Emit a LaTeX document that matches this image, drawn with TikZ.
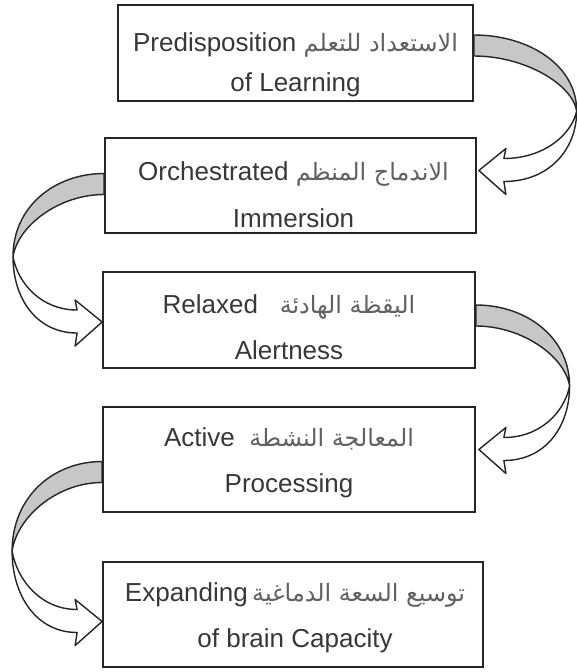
\documentclass[tikz,border=0pt]{standalone}
\usepackage{fontspec}
\setmainfont{Liberation Sans}
\newfontfamily\arabicfont[Script=Arabic]{DejaVu Sans}
\TeXXeTstate=1
\usetikzlibrary{calc}

\definecolor{shade}{gray}{0.78}
% arabic words inside a label
\newcommand{\arb}[1]{{\arabicfont\color{black!62}\fontsize{17}{28}\selectfont\beginR #1\endR}}
% bent block arrow: #1 band start, #2 tip, #3 side (1 right, -1 left), #4 bulge
\newcommand{\bentarrow}[4]{%
  \coordinate (s1) at (#1);
  \coordinate (s2) at ($(#1)+(0,21)$);
  \coordinate (t) at (#2);
  \coordinate (p) at ($(#1)!0.56!(#2)+(#3*#4,0)$);
  \coordinate (bo) at ($(t)+(#3*25,11)$);
  \coordinate (bi) at ($(t)+(#3*25,-12)$);
  % back of the band
  \draw[band, fill=shade] (s1) .. controls ($(s1)+(#3*0.55*#4,0)$) and ($(p)!0.6!(p|-s1)$) .. (p)
    .. controls ($(p)!0.5!(p|-s2)+(-5*#3,0)$) and ($(s2)+(#3*0.5*#4,0)$) .. (s2) -- cycle;
  % front of the band and the head
  \draw[band, fill=white] (p) .. controls ($(p)!0.55!(p|-bo)$) and ($(bo)+(#3*0.45*#4,0)$) .. (bo)
    -- ($(t)+(#3*27,24)$) -- (t) -- ($(t)+(#3*27,-22)$) -- (bi)
    .. controls ($(bi)+(#3*0.4*#4,0)$) and ($(p)!0.5!(p|-bi)+(-5*#3,0)$) .. (p) -- cycle;
}

\begin{document}
\begin{tikzpicture}[x=0.025cm, y=-0.025cm,
    box/.style={draw=black!85, line width=1.2pt, fill=white},
    txt/.style={align=center, text=black!78, font=\fontsize{18.5}{33}\selectfont},
    band/.style={draw=black!85, line width=1pt, line join=round}]
  \useasboundingbox (0,0) rectangle (577,672);

  \node[box, minimum width=8.875cm, minimum height=2.4cm] (pred) at (295.5,53) {};
  \node[box, minimum width=9.275cm, minimum height=2.375cm] (orch) at (290.5,185.5) {};
  \node[box, minimum width=9.3cm, minimum height=2.4cm] (relax) at (289,320) {};
  \node[box, minimum width=9.3cm, minimum height=2.625cm] (active) at (289,459.5) {};
  \node[box, minimum width=9.5cm, minimum height=2.625cm] (expand) at (293,614.5) {};

  \node[txt, font=\fontsize{18.5}{28.4}\selectfont] (pred-t) at ($(pred)+(0,12)$) {Predisposition \arb{الاستعداد للتعلم}\\of Learning};
  \node[txt] (orch-t) at ($(orch)+(3,9)$) {Orchestrated \arb{الاندماج المنظم}\\Immersion};
  \node[txt] (relax-t) at ($(relax)+(0,7)$) {Relaxed\ \ \ \arb{اليقظة الهادئة}\\Alertness};
  \node[txt] (active-t) at ($(active)+(0,3)$) {Active\ \ \arb{المعالجة النشطة}\\Processing};
  \node[txt] (expand-t) at ($(expand)+(2,3)$) {Expanding\,\arb{توسيع السعة الدماغية}\\of brain Capacity};

  \bentarrow{$(pred.east)+(0,-18)$}{$(orch.east)+(2,-15)$}{1}{100}
  \bentarrow{$(orch.west)+(0,-12)$}{$(relax.west)+(0,2)$}{-1}{90}
  \bentarrow{$(relax.east)+(0,-15)$}{$(active.east)+(3,-10)$}{1}{92}
  \bentarrow{$(active.west)+(0,2)$}{$(expand.west)+(0,7)$}{-1}{90}
\end{tikzpicture}
\end{document}
